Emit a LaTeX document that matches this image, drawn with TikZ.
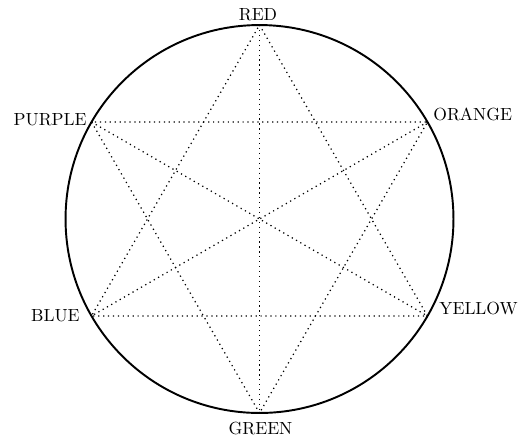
\documentclass[tikz,border=0pt]{standalone}
\begin{document}
\begin{tikzpicture}[x=0.02cm,y=-0.02cm,
  rim/.style={line width=1.1pt},
  chord/.style={line width=0.7pt,dash pattern=on 0.7pt off 2.1pt},
  lbl/.style={inner sep=0pt,font=\fontsize{10}{12}\selectfont}]
\useasboundingbox (0,0) rectangle (519,444);
\coordinate (c) at (259.5,219);
\coordinate (red) at (259.5,25);
\coordinate (orange) at (427.5,122);
\coordinate (yellow) at (427.5,316);
\coordinate (green) at (259.5,413);
\coordinate (blue) at (91.5,316);
\coordinate (purple) at (91.5,122);
\draw[rim] (c) circle[radius=3.88cm];
\draw[chord] (red) -- (yellow) -- (blue) -- (red);
\draw[chord] (green) -- (purple) -- (orange) -- (green);
\draw[chord] (red) -- (green);
\draw[chord] (purple) -- (yellow);
\draw[chord] (orange) -- (blue);
\node[lbl,anchor=base] (lred) at (258,20) {RED};
\node[lbl,anchor=base] (lgreen) at (260.5,434) {GREEN};
\node[lbl,anchor=base east] (lpurple) at (87,125) {PURPLE};
\node[lbl,anchor=base west] (lorange) at (433,120) {ORANGE};
\node[lbl,anchor=base east] (lblue) at (80,321) {BLUE};
\node[lbl,anchor=base west] (lyellow) at (439,314) {YELLOW};
\end{tikzpicture}
\end{document}
